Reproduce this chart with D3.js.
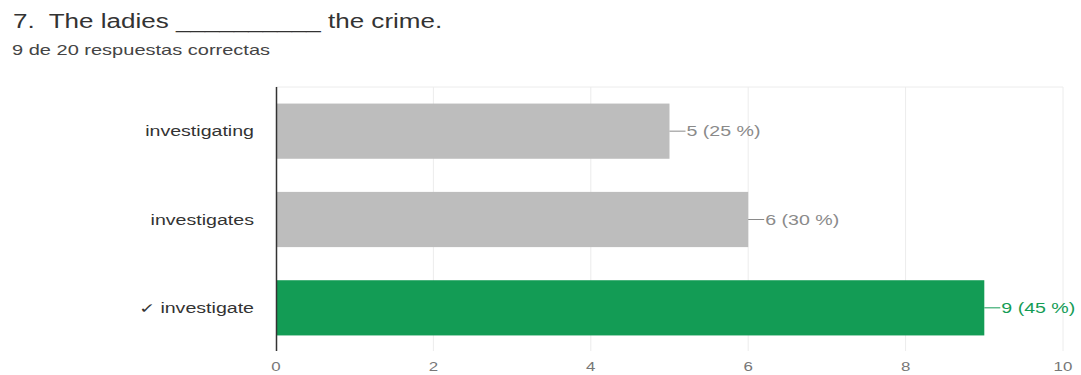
<html>
<head>
<meta charset="utf-8">
<style>
  body { margin: 0; background: #fff; }
  text { font-family: "Liberation Sans", Arial, sans-serif; white-space: pre; }
</style>
</head>
<body>
<div id="chartContainer"></div>
<script src="https://cdnjs.cloudflare.com/ajax/libs/d3/7.8.5/d3.min.js"></script>
<script>
  // data
  var answers = ["investigating", "investigates", "\u2713 investigate"];
  var counts = [5, 6, 9];
  var percents = [25, 30, 45];
  var correct = [false, false, true];
  var xTicks = [0, 2, 4, 6, 8, 10];
  var titleText = "7.  The ladies __________ the crime.";
  var subtitleText = "9 de 20 respuestas correctas";

  var W = 1081, H = 375;
  // the picture is stretched sideways, so text is too
  var SX = 1.3;

  var svg = d3.select("#chartContainer").append("svg")
    .attr("width", W).attr("height", H);

  function stretched(x, y, size, color, anchor, str, sx) {
    return svg.append("text")
      .attr("transform", "translate(" + x + "," + y + ") scale(" + (sx || SX) + ",1)")
      .attr("text-anchor", anchor || "start")
      .style("font-size", size + "px")
      .style("fill", color)
      .text(str);
  }

  // title + subtitle
  stretched(13, 28, 21, "#333", "start", titleText, 1.24);
  stretched(12, 55, 14, "#444", "start", subtitleText, 1.43);

  var x = d3.scaleLinear().domain([0, 10]).range([276, 1063]);
  var y = d3.scaleBand().domain(answers).range([87, 352])
    .paddingInner(0.375).paddingOuter(0.1875);

  // grid
  svg.selectAll(".grid").data(xTicks.slice(1)).enter().append("line")
    .attr("x1", function (d) { return x(d); })
    .attr("x2", function (d) { return x(d); })
    .attr("y1", 87).attr("y2", 351)
    .style("stroke", "#ececec").style("stroke-width", 1);
  svg.append("line")
    .attr("x1", x(0)).attr("x2", x(10)).attr("y1", 87).attr("y2", 87)
    .style("stroke", "#ececec");

  // bars
  svg.selectAll(".bar").data(answers).enter().append("rect")
    .attr("x", x(0))
    .attr("y", function (d) { return y(d); })
    .attr("width", function (d, i) { return x(counts[i]) - x(0); })
    .attr("height", y.bandwidth())
    .style("fill", function (d, i) { return correct[i] ? "#139c55" : "#bdbdbd"; });

  // axis line
  svg.append("line")
    .attr("x1", x(0) + 0.5).attr("x2", x(0) + 0.5).attr("y1", 87).attr("y2", 351)
    .style("stroke", "#333").style("stroke-width", 1.5);

  // category labels
  answers.forEach(function (a, i) {
    stretched(254, y(a) + y.bandwidth() / 2 + 5, 14, "#333", "end", a, 1.4);
  });

  // value labels with leader lines
  answers.forEach(function (a, i) {
    var cy = y(a) + y.bandwidth() / 2;
    var col = correct[i] ? "#139c55" : "#8a8a8a";
    svg.append("line")
      .attr("x1", x(counts[i])).attr("x2", x(counts[i]) + 16)
      .attr("y1", cy).attr("y2", cy)
      .style("stroke", col).style("stroke-width", 1);
    stretched(x(counts[i]) + 17, cy + 5, 14, col, "start",
      counts[i] + " (" + percents[i] + " %)", 1.4);
  });

  // x tick labels
  xTicks.forEach(function (t) {
    stretched(x(t), 371, 13, "#777", "middle", String(t), 1.3);
  });
</script>
</body>
</html>
